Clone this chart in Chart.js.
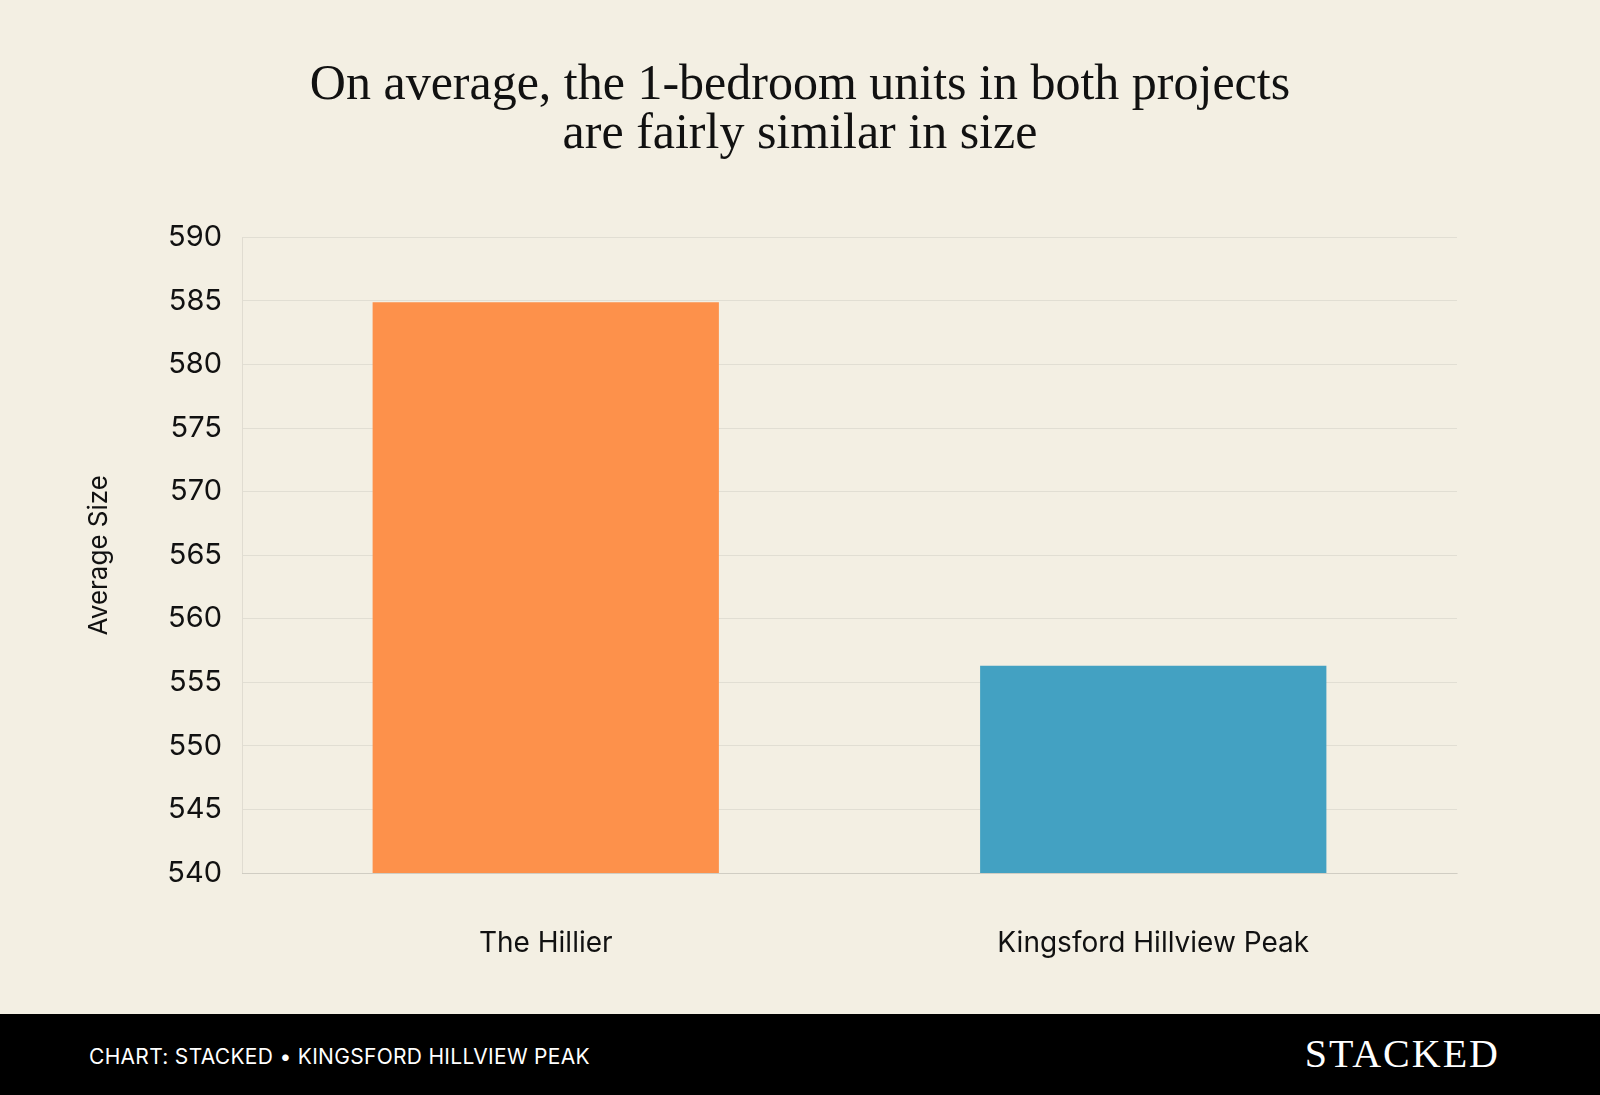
<!DOCTYPE html>
<html>
<head>
<meta charset="utf-8">
<script src="https://cdn.jsdelivr.net/npm/chart.js@4.4.0/dist/chart.umd.min.js"></script>
<style>
  html, body { margin:0; padding:0; }
  body { width:1600px; height:1095px; background:#f3efe3; position:relative; overflow:hidden; font-family:Inter, "Noto Sans", sans-serif; }
  #title { position:absolute; top:58px; left:0; width:1600px; text-align:center; font-family:"Liberation Serif", "DejaVu Serif", serif; font-size:50px; line-height:49px; color:#111; }
  #wrap { position:absolute; left:0; top:200px; width:1600px; height:760px; }
  #footer { position:absolute; left:0; top:1014px; width:1600px; height:81px; background:#000; color:#fff; }
  #src { position:absolute; left:89px; top:30px; font-size:21px; letter-spacing:0.3px; }
  #logo { position:absolute; right:100px; top:16px; font-family:"Liberation Serif", serif; font-size:40px; letter-spacing:2px; }
</style>
</head>
<body>
<div id="title">On average, the 1-bedroom units in both projects<br>are fairly similar in size</div>
<div id="wrap"><canvas id="c"></canvas></div>
<div id="footer"><div id="src">CHART: STACKED • KINGSFORD HILLVIEW PEAK</div><div id="logo">STACKED</div></div>
<script>
// values
const projects = ['The Hillier', 'Kingsford Hillview Peak'];
const avgSize = [584.9, 556.3];
const barColors = ['#fd914b', '#43a1c2'];
const yMin = 540, yMax = 590, yStep = 5;

new Chart(document.getElementById('c').getContext('2d'), {
  type: 'bar',
  data: {
    labels: projects,
    datasets: [{ data: avgSize, backgroundColor: barColors, borderWidth: 0, categoryPercentage: 1, barPercentage: 0.57 }]
  },
  options: {
    responsive: true,
    maintainAspectRatio: false,
    animation: false,
    layout: { padding: { left: 80, right: 143, top: 33, bottom: 0 } },
    plugins: { legend: { display: false }, tooltip: { enabled: false } },
    scales: {
      x: {
        grid: { display: false },
        border: { color: 'rgba(0,0,0,0.08)' },
        ticks: { color: '#111', font: { family: 'Inter', size: 28 }, padding: 46 },
        afterFit: s => { s.height = 87; }
      },
      y: {
        min: yMin, max: yMax,
        grid: { color: 'rgba(0,0,0,0.07)', drawTicks: false },
        border: { color: 'rgba(0,0,0,0.08)' },
        ticks: { stepSize: yStep, color: '#111', font: { family: 'Inter', size: 29 }, padding: 20 },
        title: { display: true, text: 'Average Size', color: '#111', font: { family: 'Inter', size: 26 } },
        afterFit: s => { s.width = 162; }
      }
    }
  }
});
</script>
</body>
</html>
